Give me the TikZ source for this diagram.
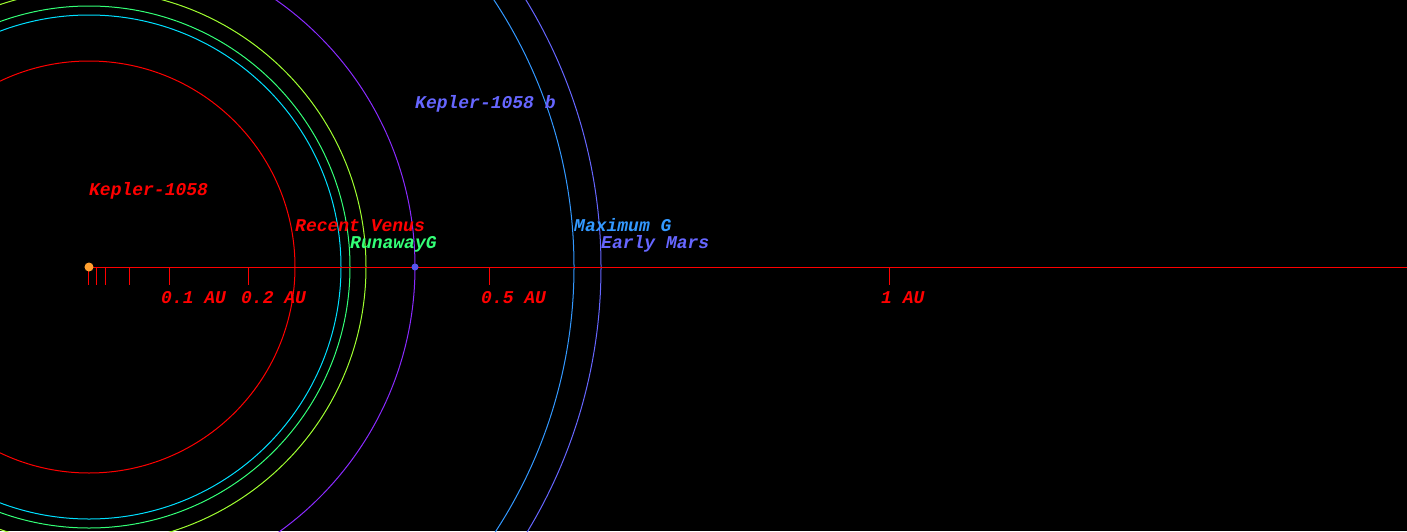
\documentclass[tikz,border=0pt]{standalone}
\usepackage{fontspec}
\setmonofont{Liberation Mono}
\definecolor{sonne}{HTML}{FFA030}
\definecolor{planet}{HTML}{5555EE}
\definecolor{rotbahn}{HTML}{FF0000}
\definecolor{cyanbahn}{HTML}{00E0FF}
\definecolor{gruenbahn}{HTML}{33FF77}
\definecolor{gelbbahn}{HTML}{A0FF30}
\definecolor{lilabahn}{HTML}{8A2BFF}
\definecolor{blaubahn}{HTML}{3399FF}
\definecolor{marsbahn}{HTML}{6666FF}
\tikzset{
    punkt/.style={circle, inner sep=0pt},
    bahn/.style={line width=1pt},
    achse/.style={rotbahn, line width=1pt},
    beschr/.style={anchor=base west, inner sep=0pt,
        font=\ttfamily\bfseries\itshape\fontsize{18}{18}\selectfont}
}
\begin{document}
\begin{tikzpicture}[x=1pt, y=1pt]
    \fill[black] (-89,-264) rectangle (1318,267);
    \clip (-89,-264) rectangle (1318,267);
    \coordinate (Z) at (0,0);
    \coordinate (rand) at (1318,0);
    % Bahnen um den Stern
    \draw[bahn, rotbahn]   (Z) circle[radius=206];
    \draw[bahn, cyanbahn]  (Z) circle[radius=252];
    \draw[bahn, gruenbahn] (Z) circle[radius=261];
    \draw[bahn, gelbbahn]  (Z) circle[radius=277];
    \draw[bahn, lilabahn]  (Z) circle[radius=326];
    \draw[bahn, blaubahn]  (Z) circle[radius=485];
    \draw[bahn, marsbahn]  (Z) circle[radius=512];
    % Achse mit Skala
    \draw[achse] (Z) -- (rand);
    \foreach \au in {0,0.01,0.02,0.05,0.1,0.2,0.5,1}
        \draw[achse] (\au*800,0) -- ++(0,-18);
    \foreach \au/\txt in {0.1/0.1 AU,0.2/0.2 AU,0.5/0.5 AU,1/1 AU}
        \node[beschr, text=rotbahn] (skala-\au) at (\au*800-8,-36) {\txt};
    \path node[punkt, fill=sonne, minimum size=9pt] (stern) at (0,0) {}
        node[punkt, fill=planet, minimum size=7pt] (b) at (326,0) {}
        node[beschr, text=rotbahn] (sternname) at (0,72) {Kepler-1058}
        node[beschr, text=marsbahn] (bname) at (326,159) {Kepler-1058 b}
        node[beschr, text=rotbahn] (venus) at (206,36) {Recent Venus}
        node[beschr, text=gruenbahn] (runaway) at (261,19) {RunawayG}
        node[beschr, text=blaubahn] (maxg) at (485,36) {Maximum G}
        node[beschr, text=marsbahn] (mars) at (512,19) {Early Mars};
\end{tikzpicture}
\end{document}
